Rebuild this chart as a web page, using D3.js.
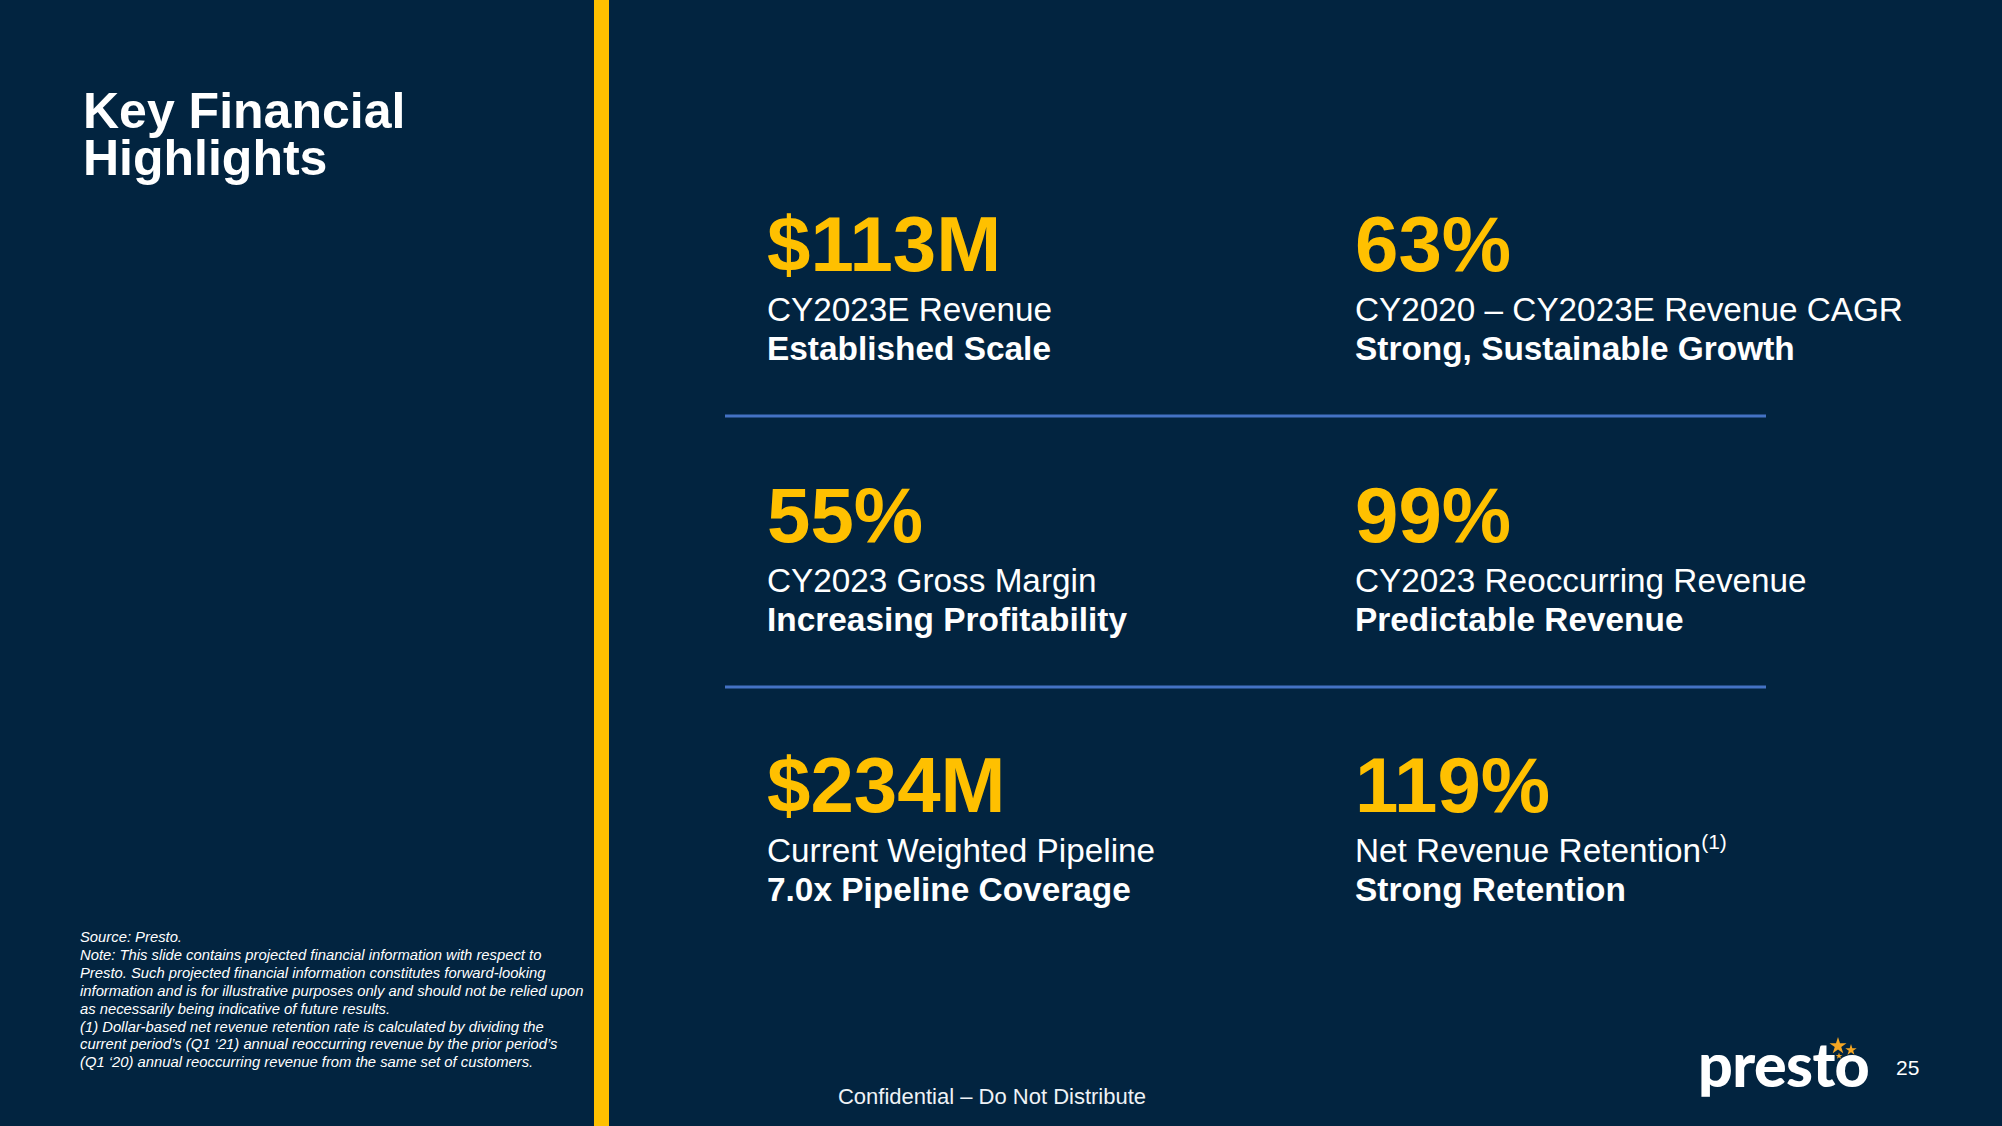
<!DOCTYPE html>
<html>
<head>
<meta charset="utf-8">
<script src="https://cdn.jsdelivr.net/npm/d3@7"></script>
<style>
  html, body { margin: 0; padding: 0; background: #022440; overflow: hidden; }
  svg { display: block; }
</style>
</head>
<body>
<div id="chart"></div>
<script>
// ---------- data ----------
const titleLines = ["Key Financial", "Highlights"];
const metricValues = ["$113M", "63%", "55%", "99%", "$234M", "119%"];
const metricLabels = ["CY2023E Revenue", "CY2020 \u2013 CY2023E Revenue CAGR", "CY2023 Gross Margin",
                      "CY2023 Reoccurring Revenue", "Current Weighted Pipeline", "Net Revenue Retention"];
const metricFootRefs = ["", "", "", "", "", "(1)"];
const metricTaglines = ["Established Scale", "Strong, Sustainable Growth", "Increasing Profitability",
                        "Predictable Revenue", "7.0x Pipeline Coverage", "Strong Retention"];
const columns = ["left", "right"];
const rows = [0, 1, 2];
const dividerAfterRows = [0, 1];
const footnoteLines = [
  "Source: Presto.",
  "Note: This slide contains projected financial information with respect to",
  "Presto. Such projected financial information constitutes forward-looking",
  "information and is for illustrative purposes only and should not be relied upon",
  "as necessarily being indicative of future results.",
  "(1) Dollar-based net revenue retention rate is calculated by dividing the",
  "current period\u2019s (Q1 \u201821) annual reoccurring revenue by the prior period\u2019s",
  "(Q1 \u201820) annual reoccurring revenue from the same set of customers."
];
const confidentialText = "Confidential \u2013 Do Not Distribute";
const pageNumber = "25";
const logoText = "presto";

// ---------- layout ----------
const W = 2002, H = 1126;
const BG = "#022440", GOLD = "#FFC000", BLUE = "#4472C4", WHITE = "#FFFFFF";
const FONT = "'Liberation Sans', Arial, Helvetica, sans-serif";

const svg = d3.select("#chart").append("svg")
  .attr("width", W).attr("height", H)
  .attr("viewBox", `0 0 ${W} ${H}`);

svg.append("rect").attr("width", W).attr("height", H).attr("fill", BG);

// vertical gold bar
svg.append("rect").attr("x", 594).attr("y", 0).attr("width", 15).attr("height", H).attr("fill", GOLD);

// title (one text element, two lines)
const title = svg.append("text")
  .attr("font-family", FONT).attr("font-weight", 700).attr("font-size", 50)
  .attr("fill", WHITE);
title.selectAll("tspan").data(titleLines).join("tspan")
  .attr("x", 83)
  .attr("y", (d, i) => 128 + i * 47)
  .text(d => d);

// scales for the metric grid
const xCol = d3.scalePoint().domain(columns).range([767, 1355]);
const yRow = d3.scaleLinear().domain([0, 2]).range([271, 812]);

const metrics = metricValues.map((v, i) => ({
  value: v, label: metricLabels[i], ref: metricFootRefs[i], tagline: metricTaglines[i],
  col: columns[i % 2], row: Math.floor(i / 2)
}));

const cells = svg.append("g").selectAll("g").data(metrics).join("g")
  .attr("transform", d => `translate(${xCol(d.col)},${yRow(d.row)})`);

cells.append("text")
  .attr("x", 0).attr("y", 0)
  .attr("font-family", FONT).attr("font-weight", 700).attr("font-size", 78)
  .attr("fill", GOLD)
  .text(d => d.value);

const lbl = cells.append("text")
  .attr("x", 0).attr("y", 50)
  .attr("font-family", FONT).attr("font-weight", 400).attr("font-size", 33.3)
  .attr("fill", WHITE);
lbl.append("tspan").text(d => d.label);
lbl.filter(d => d.ref).append("tspan")
  .attr("font-size", 21).attr("dy", -13)
  .text(d => d.ref);

cells.append("text")
  .attr("x", 0).attr("y", 89)
  .attr("font-family", FONT).attr("font-weight", 700).attr("font-size", 33.4)
  .attr("fill", WHITE)
  .text(d => d.tagline);

// dividers between rows
const yDivider = d3.scaleLinear().domain([0, 1]).range([416, 687]);
svg.append("g").selectAll("line").data(dividerAfterRows).join("line")
  .attr("x1", 725).attr("x2", 1766)
  .attr("y1", d => yDivider(d)).attr("y2", d => yDivider(d))
  .attr("stroke", BLUE).attr("stroke-width", 3);

// footnote
svg.append("g").selectAll("text").data(footnoteLines).join("text")
  .attr("x", 80)
  .attr("y", (d, i) => 942 + i * 17.9)
  .attr("font-family", FONT).attr("font-style", "italic").attr("font-size", 14.8)
  .attr("fill", WHITE)
  .text(d => d);

// confidential
svg.append("text")
  .attr("x", 992).attr("y", 1104)
  .attr("text-anchor", "middle")
  .attr("font-family", FONT).attr("font-size", 22)
  .attr("fill", "#EEF2F6")
  .text(confidentialText);

// page number
svg.append("text")
  .attr("x", 1896).attr("y", 1075)
  .attr("font-family", FONT).attr("font-size", 21)
  .attr("fill", WHITE)
  .text(pageNumber);

// logo
const logo = svg.append("g");
logo.append("text")
  .attr("x", 1698).attr("y", 1087)
  .attr("font-family", "Lato, 'Open Sans', sans-serif").attr("font-weight", 900)
  .attr("font-size", 61).attr("letter-spacing", -0.6)
  .attr("fill", WHITE)
  .text(logoText);
const stars = [{x: 1838, y: 1046, s: 90}, {x: 1851, y: 1050, s: 40}, {x: 1839, y: 1056, s: 14}];
logo.selectAll("path").data(stars).join("path")
  .attr("transform", d => `translate(${d.x},${d.y})`)
  .attr("d", d => d3.symbol(d3.symbolStar, d.s)())
  .attr("fill", "#F5A623");
</script>
</body>
</html>
